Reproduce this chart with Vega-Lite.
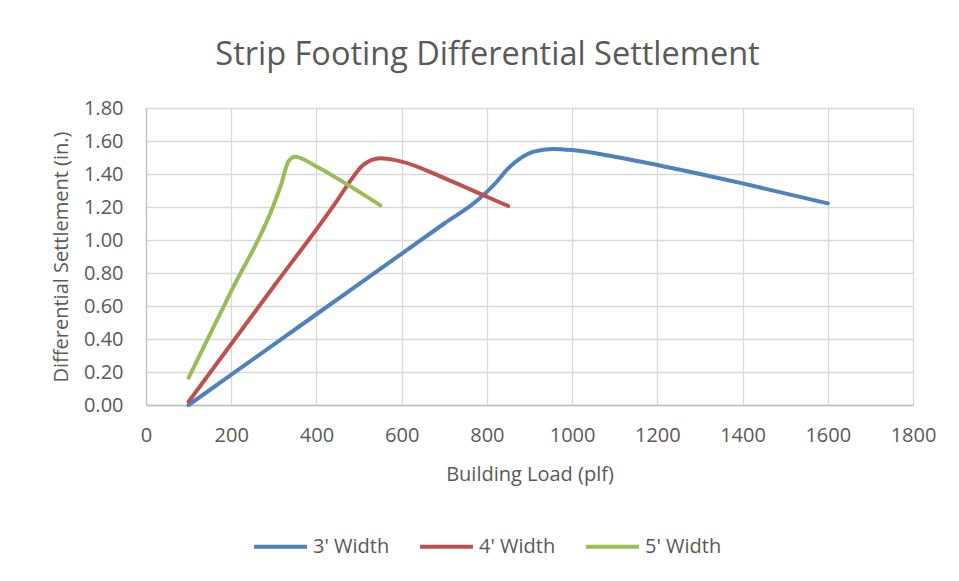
{
  "$schema": "https://vega.github.io/schema/vega-lite/v6.json",
  "autosize": {"type": "none"},
  "width": 767,
  "height": 297,
  "padding": {"left": 146, "top": 108, "right": 46, "bottom": 176},
  "background": "white",
  "title": {
    "text": "Strip Footing Differential Settlement",
    "font": "Open Sans",
    "fontSize": 32.5,
    "fontWeight": "normal",
    "color": "#595959",
    "anchor": "middle",
    "frame": "group",
    "dx": -42,
    "offset": 27
  },
  "data": {
    "values": [
      {"load": 100, "settlement": 0.0, "series": "3' Width"},
      {"load": 400, "settlement": 0.55, "series": "3' Width"},
      {"load": 700, "settlement": 1.10, "series": "3' Width"},
      {"load": 780, "settlement": 1.245, "series": "3' Width"},
      {"load": 820, "settlement": 1.344, "series": "3' Width"},
      {"load": 850, "settlement": 1.434, "series": "3' Width"},
      {"load": 880, "settlement": 1.498, "series": "3' Width"},
      {"load": 910, "settlement": 1.536, "series": "3' Width"},
      {"load": 955, "settlement": 1.552, "series": "3' Width"},
      {"load": 1000, "settlement": 1.545, "series": "3' Width"},
      {"load": 1100, "settlement": 1.505, "series": "3' Width"},
      {"load": 1200, "settlement": 1.455, "series": "3' Width"},
      {"load": 1400, "settlement": 1.343, "series": "3' Width"},
      {"load": 1600, "settlement": 1.222, "series": "3' Width"},
      {"load": 100, "settlement": 0.02, "series": "4' Width"},
      {"load": 300, "settlement": 0.72, "series": "4' Width"},
      {"load": 450, "settlement": 1.245, "series": "4' Width"},
      {"load": 480, "settlement": 1.36, "series": "4' Width"},
      {"load": 510, "settlement": 1.455, "series": "4' Width"},
      {"load": 550, "settlement": 1.495, "series": "4' Width"},
      {"load": 600, "settlement": 1.475, "series": "4' Width"},
      {"load": 700, "settlement": 1.375, "series": "4' Width"},
      {"load": 800, "settlement": 1.262, "series": "4' Width"},
      {"load": 850, "settlement": 1.206, "series": "4' Width"},
      {"load": 100, "settlement": 0.165, "series": "5' Width"},
      {"load": 200, "settlement": 0.69, "series": "5' Width"},
      {"load": 300, "settlement": 1.215, "series": "5' Width"},
      {"load": 318, "settlement": 1.343, "series": "5' Width"},
      {"load": 334, "settlement": 1.475, "series": "5' Width"},
      {"load": 350, "settlement": 1.505, "series": "5' Width"},
      {"load": 400, "settlement": 1.445, "series": "5' Width"},
      {"load": 470, "settlement": 1.34, "series": "5' Width"},
      {"load": 550, "settlement": 1.21, "series": "5' Width"}
    ]
  },
  "mark": {"type": "line", "interpolate": "monotone", "strokeWidth": 4, "strokeCap": "round"},
  "encoding": {
    "x": {
      "field": "load",
      "type": "quantitative",
      "title": "Building Load (plf)",
      "scale": {"domain": [0, 1800], "nice": false, "zero": false},
      "axis": {
        "values": [0, 200, 400, 600, 800, 1000, 1200, 1400, 1600, 1800],
        "format": "d",
        "labelPadding": 20,
        "titlePadding": 19,
        "labelFlush": false
      }
    },
    "y": {
      "field": "settlement",
      "type": "quantitative",
      "title": "Differential Settlement (in.)",
      "scale": {"domain": [0, 1.8], "nice": false},
      "axis": {
        "values": [0, 0.2, 0.4, 0.6, 0.8, 1.0, 1.2, 1.4, 1.6, 1.8],
        "format": ".2f",
        "labelPadding": 23,
        "titlePadding": 12
      }
    },
    "color": {
      "field": "series",
      "type": "nominal",
      "title": null,
      "scale": {
        "domain": ["3' Width", "4' Width", "5' Width"],
        "range": ["#4F81BD", "#C0504D", "#9BBB59"]
      },
      "legend": {
        "orient": "none",
        "legendX": 106,
        "legendY": 410,
        "direction": "horizontal",
        "symbolType": "stroke",
        "symbolSize": 2800,
        "symbolStrokeWidth": 4,
        "labelFont": "Open Sans",
        "labelFontSize": 20,
        "labelColor": "#595959",
        "labelOffset": 4,
        "columnPadding": 22,
        "padding": 0
      }
    }
  },
  "config": {
    "view": {"stroke": "#D9D9D9", "strokeWidth": 1},
    "axis": {
      "grid": true,
      "gridColor": "#D9D9D9",
      "gridWidth": 1.3,
      "gridOpacity": 1,
      "domain": true,
      "domainColor": "#BFBFBF",
      "domainWidth": 1.3,
      "ticks": false,
      "labelFont": "Open Sans",
      "labelFontSize": 20,
      "labelColor": "#595959",
      "titleFont": "Open Sans",
      "titleFontSize": 20,
      "titleFontWeight": "normal",
      "titleColor": "#595959"
    }
  }
}
